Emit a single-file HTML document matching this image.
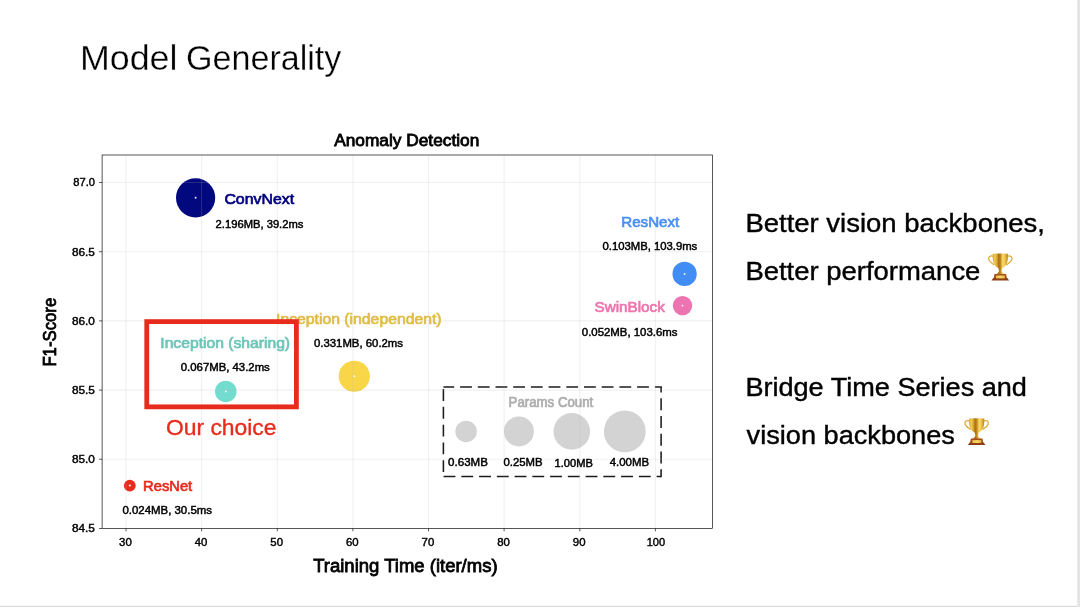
<!DOCTYPE html>
<html><head><meta charset="utf-8"><title>Model Generality</title>
<style>
html,body{margin:0;padding:0;background:#fff;}
body{width:1080px;height:607px;overflow:hidden;position:relative;font-family:"Liberation Sans",sans-serif;}
svg{position:absolute;left:0;top:0;opacity:0.999;will-change:transform;}
text{font-family:"Liberation Sans",sans-serif;}
.t{fill:#000;stroke:#000;stroke-width:0.8px;}
.s{fill:#000;stroke:#000;stroke-width:0.45px;}
.lab{stroke-width:0.7px;}
.k{fill:#000;stroke:#000;stroke-width:0.4px;}
</style></head><body>
<svg width="1080" height="607" viewBox="0 0 1080 607">
<rect x="0" y="0" width="1080" height="607" fill="#fff"/>
<rect x="0" y="605" width="1080" height="1" fill="#f8f8f8"/>
<rect x="0" y="606" width="1080" height="1" fill="#dadada"/>
<rect x="1077" y="0" width="1" height="607" fill="#e9e9e9"/>
<rect x="1078" y="0" width="2" height="607" fill="#e4e4e4"/>

<text x="79.9" y="69.6" font-size="35.3" fill="#000" stroke="#fff" stroke-width="0.3" textLength="97.6" lengthAdjust="spacingAndGlyphs">Model</text>
<text x="186" y="69.6" font-size="35.3" fill="#000" stroke="#fff" stroke-width="0.3" textLength="155.4" lengthAdjust="spacingAndGlyphs">Generality</text>
<circle cx="195.6" cy="197.8" r="19.6" fill="#02087d" fill-opacity="1"/>
<circle cx="195.6" cy="197.8" r="0.95" fill="#fff" fill-opacity="0.95"/>
<circle cx="684.6" cy="273.9" r="12.15" fill="#428df5" fill-opacity="1"/>
<circle cx="684.6" cy="273.9" r="0.95" fill="#fff" fill-opacity="0.95"/>
<circle cx="682.5" cy="305.6" r="9.7" fill="#ec74b0" fill-opacity="1"/>
<circle cx="682.5" cy="305.6" r="0.95" fill="#fff" fill-opacity="0.95"/>
<circle cx="354.3" cy="376.2" r="15.55" fill="#f8d648" fill-opacity="1"/>
<circle cx="354.3" cy="376.2" r="0.95" fill="#fff" fill-opacity="0.95"/>
<circle cx="225.8" cy="391.4" r="10.75" fill="#72dccf" fill-opacity="1"/>
<circle cx="225.8" cy="391.4" r="0.95" fill="#fff" fill-opacity="0.95"/>
<circle cx="129.8" cy="485.6" r="5.9" fill="#e72b1c"/><circle cx="129.8" cy="485.6" r="1.0" fill="#fff"/>
<circle cx="466.1" cy="431.4" r="10.75" fill="#d3d3d3"/>
<circle cx="518.9" cy="431.4" r="15.0" fill="#d3d3d3"/>
<circle cx="571.8" cy="431.4" r="18.3" fill="#d3d3d3"/>
<circle cx="624.8" cy="431.4" r="20.9" fill="#d3d3d3"/>
<g fill="none" stroke="#1c1c1c" stroke-width="1.55">
<path d="M443.6 476.5 L661.1 476.5" stroke-dasharray="11.85 5.9"/>
<path d="M661.1 477.25 L661.1 387.05" stroke-dasharray="11.85 5.9" stroke-dashoffset="3.95"/>
<path d="M661.85 387.05 L443.4 387.05" stroke-dasharray="11.8 5.9" stroke-dashoffset="4.75"/>
<path d="M443.4 387.05 L443.4 476.5" stroke-dasharray="11.85 5.95" stroke-dashoffset="15.8"/>
</g>
<g stroke="#b4b4b4" stroke-opacity="0.2" stroke-width="1.1">
<line x1="126.0" y1="155.0" x2="126.0" y2="528.5"/>
<line x1="201.6" y1="155.0" x2="201.6" y2="528.5"/>
<line x1="277.3" y1="155.0" x2="277.3" y2="528.5"/>
<line x1="352.9" y1="155.0" x2="352.9" y2="528.5"/>
<line x1="428.5" y1="155.0" x2="428.5" y2="528.5"/>
<line x1="504.1" y1="155.0" x2="504.1" y2="528.5"/>
<line x1="579.8" y1="155.0" x2="579.8" y2="528.5"/>
<line x1="655.4" y1="155.0" x2="655.4" y2="528.5"/>
<line x1="102.1" y1="182.5" x2="712.5" y2="182.5"/>
<line x1="102.1" y1="251.7" x2="712.5" y2="251.7"/>
<line x1="102.1" y1="320.9" x2="712.5" y2="320.9"/>
<line x1="102.1" y1="390.1" x2="712.5" y2="390.1"/>
<line x1="102.1" y1="459.3" x2="712.5" y2="459.3"/>
</g>
<rect x="102.1" y="155.0" width="610.4" height="373.5" fill="none" stroke="#000" stroke-width="0.66"/>
<g stroke="#000" stroke-width="0.66">
<line x1="126.0" y1="528.5" x2="126.0" y2="531.3"/>
<line x1="201.6" y1="528.5" x2="201.6" y2="531.3"/>
<line x1="277.3" y1="528.5" x2="277.3" y2="531.3"/>
<line x1="352.9" y1="528.5" x2="352.9" y2="531.3"/>
<line x1="428.5" y1="528.5" x2="428.5" y2="531.3"/>
<line x1="504.1" y1="528.5" x2="504.1" y2="531.3"/>
<line x1="579.8" y1="528.5" x2="579.8" y2="531.3"/>
<line x1="655.4" y1="528.5" x2="655.4" y2="531.3"/>
<line x1="99.1" y1="182.5" x2="102.1" y2="182.5"/>
<line x1="99.1" y1="251.7" x2="102.1" y2="251.7"/>
<line x1="99.1" y1="320.9" x2="102.1" y2="320.9"/>
<line x1="99.1" y1="390.1" x2="102.1" y2="390.1"/>
<line x1="99.1" y1="459.3" x2="102.1" y2="459.3"/>
<line x1="99.1" y1="528.5" x2="102.1" y2="528.5"/>
</g>
<text class="k" x="119.1" y="545.8" font-size="10.2" textLength="12.7" lengthAdjust="spacingAndGlyphs">30</text>
<text class="k" x="194.7" y="545.8" font-size="10.2" textLength="12.7" lengthAdjust="spacingAndGlyphs">40</text>
<text class="k" x="270.3" y="545.8" font-size="10.2" textLength="12.7" lengthAdjust="spacingAndGlyphs">50</text>
<text class="k" x="345.9" y="545.8" font-size="10.2" textLength="12.7" lengthAdjust="spacingAndGlyphs">60</text>
<text class="k" x="421.6" y="545.8" font-size="10.2" textLength="12.7" lengthAdjust="spacingAndGlyphs">70</text>
<text class="k" x="497.2" y="545.8" font-size="10.2" textLength="12.7" lengthAdjust="spacingAndGlyphs">80</text>
<text class="k" x="572.8" y="545.8" font-size="10.2" textLength="12.7" lengthAdjust="spacingAndGlyphs">90</text>
<text class="k" x="646.7" y="545.8" font-size="10.2" textLength="18.4" lengthAdjust="spacingAndGlyphs">100</text>
<text class="k" x="73.3" y="186.4" font-size="10.2" textLength="21.6" lengthAdjust="spacingAndGlyphs">87.0</text>
<text class="k" x="71.9" y="255.6" font-size="10.2" textLength="23.0" lengthAdjust="spacingAndGlyphs">86.5</text>
<text class="k" x="71.9" y="324.8" font-size="10.2" textLength="23.0" lengthAdjust="spacingAndGlyphs">86.0</text>
<text class="k" x="71.9" y="394.0" font-size="10.2" textLength="23.0" lengthAdjust="spacingAndGlyphs">85.5</text>
<text class="k" x="71.9" y="463.2" font-size="10.2" textLength="23.0" lengthAdjust="spacingAndGlyphs">85.0</text>
<text class="k" x="71.9" y="532.4" font-size="10.2" textLength="23.0" lengthAdjust="spacingAndGlyphs">84.5</text>
<text class="t" x="334.2" y="146" font-size="16.4"   textLength="145.1" lengthAdjust="spacingAndGlyphs" >Anomaly Detection</text>
<text class="t" x="313.2" y="571.8" font-size="18.4"   textLength="184.4" lengthAdjust="spacingAndGlyphs" >Training Time (iter/ms)</text>
<text class="t" font-size="18.4" textLength="68.8" lengthAdjust="spacingAndGlyphs" transform="translate(56.4,366.6) rotate(-90)">F1-Score</text>
<text class="lab" x="224.4" y="204.1" font-size="15.1" fill="#000080" stroke="#000080" textLength="69.7" lengthAdjust="spacingAndGlyphs" >ConvNext</text>
<text class="s" x="215.6" y="227.5" font-size="10.6"   textLength="87.8" lengthAdjust="spacingAndGlyphs" >2.196MB, 39.2ms</text>
<text class="lab" x="621.3" y="226.7" font-size="15.1" fill="#4a8ff0" stroke="#4a8ff0" textLength="57.9" lengthAdjust="spacingAndGlyphs" >ResNext</text>
<text class="s" x="602.5" y="250.2" font-size="10.6"   textLength="94.7" lengthAdjust="spacingAndGlyphs" >0.103MB, 103.9ms</text>
<text class="lab" x="594.6" y="311.8" font-size="15.1" fill="#ee74ae" stroke="#ee74ae" textLength="70.2" lengthAdjust="spacingAndGlyphs" >SwinBlock</text>
<text class="s" x="581.8" y="335.5" font-size="10.6"   textLength="95.7" lengthAdjust="spacingAndGlyphs" >0.052MB, 103.6ms</text>
<text class="lab" x="276.0" y="323.8" font-size="15.1" fill="#e0bc45" stroke="#e0bc45" textLength="165.6" lengthAdjust="spacingAndGlyphs" >Inception (independent)</text>
<text class="s" x="314.0" y="347.4" font-size="10.6"   textLength="89.0" lengthAdjust="spacingAndGlyphs" >0.331MB, 60.2ms</text>
<text class="lab" x="160.3" y="347.5" font-size="15.1" fill="#6cc5b8" stroke="#6cc5b8" textLength="129.8" lengthAdjust="spacingAndGlyphs" >Inception (sharing)</text>
<text class="s" x="180.8" y="371.2" font-size="10.6"   textLength="89.0" lengthAdjust="spacingAndGlyphs" >0.067MB, 43.2ms</text>
<text class="lab" x="143.1" y="491.1" font-size="15.1" fill="#e72b1c" stroke="#e72b1c" textLength="49.1" lengthAdjust="spacingAndGlyphs" >ResNet</text>
<text class="s" x="122.4" y="513.9" font-size="10.6"   textLength="89.6" lengthAdjust="spacingAndGlyphs" >0.024MB, 30.5ms</text>
<text class="lab" x="508.6" y="406.7" font-size="14" fill="#adadad" stroke="#adadad" textLength="84.7" lengthAdjust="spacingAndGlyphs" >Params Count</text>
<text class="s" x="448.1" y="465.5" font-size="10.6"   textLength="39.8" lengthAdjust="spacingAndGlyphs" >0.63MB</text>
<text class="s" x="503.5" y="465.5" font-size="10.6"   textLength="39.1" lengthAdjust="spacingAndGlyphs" >0.25MB</text>
<text class="s" x="554.6" y="466.8" font-size="10.6"   textLength="38.3" lengthAdjust="spacingAndGlyphs" >1.00MB</text>
<text class="s" x="609.7" y="465.5" font-size="10.6"   textLength="39.4" lengthAdjust="spacingAndGlyphs" >4.00MB</text>
<rect x="146.75" y="321.6" width="149.65" height="85.25" fill="none" stroke="#e72b1c" stroke-width="4.8"/>
<text x="166" y="434.7" font-size="22.6" fill="#e72b1c" stroke="#e72b1c" stroke-width="0.35" textLength="110.5" lengthAdjust="spacingAndGlyphs">Our choice</text>
<text x="745.4" y="231.7" font-size="26.3" fill="#000" stroke="#000" stroke-width="0.4" textLength="299.5" lengthAdjust="spacingAndGlyphs">Better vision backbones,</text>
<text x="745.4" y="280" font-size="26.3" fill="#000" stroke="#000" stroke-width="0.4" textLength="235" lengthAdjust="spacingAndGlyphs">Better performance</text>
<text x="745.4" y="396.2" font-size="26.3" fill="#000" stroke="#000" stroke-width="0.4" textLength="281.5" lengthAdjust="spacingAndGlyphs">Bridge Time Series and</text>
<text x="746.6" y="444.4" font-size="26.3" fill="#000" stroke="#000" stroke-width="0.4" textLength="208.3" lengthAdjust="spacingAndGlyphs">vision backbones</text>
<defs>
<linearGradient id="gold" x1="0" x2="1" y1="0" y2="0"><stop offset="0" stop-color="#d9a22c"/><stop offset="0.14" stop-color="#f2cc58"/><stop offset="0.28" stop-color="#dca832"/><stop offset="0.4" stop-color="#a8700f"/><stop offset="0.52" stop-color="#c48c20"/><stop offset="0.66" stop-color="#f8dc6c"/><stop offset="0.82" stop-color="#ecc048"/><stop offset="1" stop-color="#b67e18"/></linearGradient>
<linearGradient id="plate" x1="0" x2="1" y1="0" y2="0"><stop offset="0" stop-color="#e8b83c"/><stop offset="0.5" stop-color="#f8dc68"/><stop offset="1" stop-color="#e4b23a"/></linearGradient>
<g id="trophy">
<path d="M9.3 6.3 C6.4 5.2 3.9 6.7 4.8 9.6 C5.5 11.8 8.3 13.3 10.3 15" fill="none" stroke="#dda82e" stroke-width="1.25"/>
<path d="M23.3 6.3 C26.2 5.2 28.7 6.7 27.8 9.6 C27.1 11.8 24.3 13.3 22.3 15" fill="none" stroke="#dda82e" stroke-width="1.25"/>
<path d="M8.700 3.800 Q16.300 3.300 23.900 3.800 C24 8 23.800 11.500 22.500 14 C21.300 16.300 19.500 17.600 18.200 18.200 L17.600 21 C17.700 22.300 19.600 23.200 20.400 24.400 L12.200 24.400 C13 23.200 14.900 22.300 15 21 L14.400 18.200 C13.100 17.600 11.300 16.300 10.100 14 C8.800 11.500 8.600 8 8.700 3.800 Z" fill="url(#gold)"/>
<path d="M10.500 24 L22.100 24 L22.900 28.400 L9.700 28.400 Z" fill="#a64e1e"/>
<path d="M9.300 28 L23.300 28 L25.100 30.500 L7.500 30.500 Z" fill="#8e3e16"/>
<rect x="12" y="25.500" width="8.900" height="2.900" fill="url(#plate)"/>
</g></defs>
<use href="#trophy" transform="translate(984,250)"/>
<use href="#trophy" transform="translate(960.35,414.6)"/>

</svg></body></html>
